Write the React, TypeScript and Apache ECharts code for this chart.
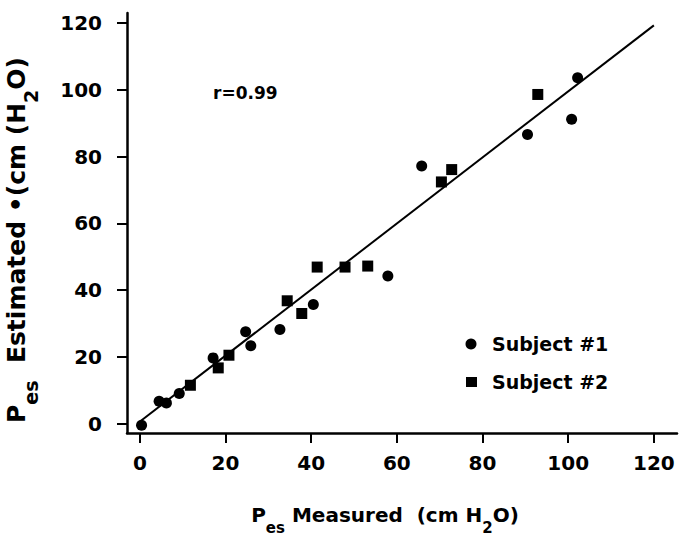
import React, { useEffect, useRef } from "react";
import * as echarts from "echarts";

// Measured vs estimated oesophageal pressure (cm H2O)
const subject1X = [0.4, 4.5, 6.2, 9.2, 17.1, 24.7, 25.9, 32.7, 40.5, 57.9, 65.8, 90.5, 100.8, 102.2];
const subject1Y = [-0.5, 6.7, 6.2, 9.0, 19.7, 27.5, 23.3, 28.2, 35.7, 44.2, 77.2, 86.6, 91.2, 103.6];

const subject2X = [11.8, 18.3, 20.8, 34.4, 37.8, 41.4, 47.9, 53.2, 70.4, 72.8, 92.9];
const subject2Y = [11.5, 16.7, 20.5, 36.8, 33.0, 46.9, 46.9, 47.2, 72.4, 76.1, 98.6];

// regression line end points
const fitX = [-0.5, 120];
const fitY = [0.1, 119.3];

const tickValues = [0, 20, 40, 60, 80, 100, 120];
const legendNames = ["Subject #1", "Subject #2"];
const corrLabel = "r=0.99";

const FONT = "DejaVu Sans";

const pairs = (xs: number[], ys: number[]) => xs.map((x, i) => [x, ys[i]]);

const richFor = (main: number, sub: number, drop: number) => ({
  b: { fontFamily: FONT, fontWeight: "bold" as const, fontSize: main, color: "#000", verticalAlign: "top" as const, lineHeight: main + 4 },
  s: { fontFamily: FONT, fontWeight: "bold" as const, fontSize: sub, color: "#000", verticalAlign: "bottom" as const, lineHeight: main + 4 + drop },
  h: { fontFamily: FONT, fontWeight: "bold" as const, fontSize: sub, color: "#000", verticalAlign: "bottom" as const, lineHeight: main + 4 + drop - 3 },
});

export default function App() {
  const ref = useRef<HTMLDivElement>(null);

  useEffect(() => {
    if (!ref.current) return;
    const chart = echarts.init(ref.current, null, { renderer: "svg" });

    const axisCommon = {
      type: "value" as const,
      splitLine: { show: false },
      axisLine: { show: true, onZero: false, lineStyle: { color: "#000", width: 2.5 } },
      axisTick: {
        show: true,
        customValues: tickValues,
        length: 10,
        lineStyle: { color: "#000", width: 2 },
      },
    };

    const labelCommon = {
      customValues: tickValues,
      color: "#000",
      fontFamily: FONT,
      fontWeight: "bold" as const,
      fontSize: 20,
    };

    chart.setOption({
      animation: false,
      backgroundColor: "#fff",
      grid: { left: 127, right: 6, top: 13, bottom: 109, containLabel: false },
      xAxis: { ...axisCommon, min: -3, max: 125.4, axisLabel: { ...labelCommon, margin: 20 } },
      yAxis: { ...axisCommon, min: -2.8, max: 123, axisLabel: { ...labelCommon, margin: 25 } },
      series: [
        {
          name: legendNames[0],
          type: "scatter",
          symbol: "circle",
          symbolSize: 11,
          itemStyle: { color: "#000", opacity: 1 },
          data: pairs(subject1X, subject1Y),
          z: 3,
        },
        {
          name: legendNames[1],
          type: "scatter",
          symbol: "rect",
          symbolSize: 11,
          itemStyle: { color: "#000", opacity: 1 },
          data: pairs(subject2X, subject2Y),
          z: 3,
        },
        {
          name: "fit",
          type: "line",
          symbol: "none",
          lineStyle: { color: "#000", width: 2 },
          data: pairs(fitX, fitY),
          z: 2,
        },
      ],
      graphic: [
        {
          type: "text",
          left: 213,
          top: 84,
          style: { text: corrLabel, font: `bold 17px "${FONT}"`, fill: "#000" },
        },
        // legend
        { type: "circle", shape: { cx: 471, cy: 344, r: 5.5 }, style: { fill: "#000" } },
        {
          type: "text",
          x: 492,
          y: 344,
          style: { text: legendNames[0], font: `bold 19px "${FONT}"`, fill: "#000", verticalAlign: "middle" },
        },
        { type: "rect", shape: { x: 466, y: 377, width: 11, height: 10 }, style: { fill: "#000" } },
        {
          type: "text",
          x: 492,
          y: 382,
          style: { text: legendNames[1], font: `bold 19px "${FONT}"`, fill: "#000", verticalAlign: "middle" },
        },
        // x axis title
        {
          type: "text",
          x: 385,
          y: 520,
          style: {
            text: "{b|P}{s|es}{b| Measured  (cm H}{h|2}{b|O)}",
            rich: richFor(20, 15, 7),
            align: "center",
            verticalAlign: "middle",
          },
        },
        // y axis title
        {
          type: "text",
          x: 22,
          y: 240,
          rotation: Math.PI / 2,
          style: {
            text: "{b|P}{s|es}{b|  Estimated •(cm (H}{h|2}{b|O)}",
            rich: richFor(25, 19, 8),
            align: "center",
            verticalAlign: "middle",
          },
        },
      ],
    });

    return () => chart.dispose();
  }, []);

  return (
    <div
      ref={ref}
      style={{ position: "fixed", left: 0, top: 0, width: 683, height: 542, background: "#fff" }}
    />
  );
}
